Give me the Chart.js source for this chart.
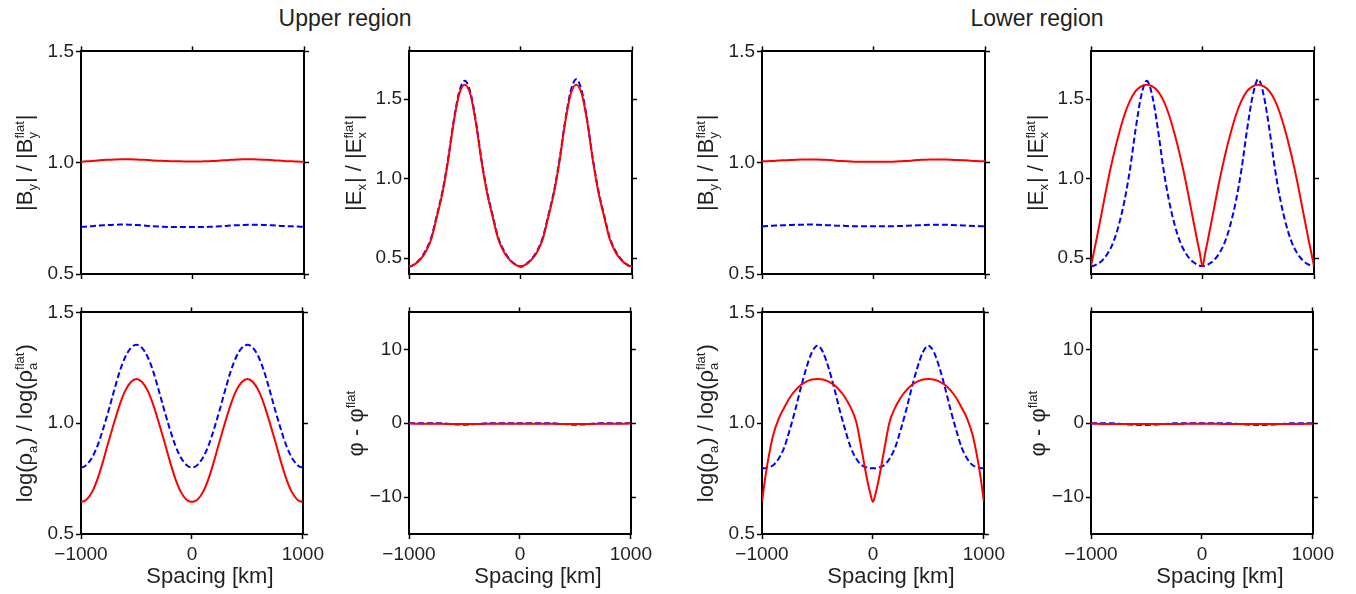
<!DOCTYPE html>
<html>
<head>
<meta charset="utf-8">
<script src="https://cdn.jsdelivr.net/npm/chart.js@4.4.1/dist/chart.umd.min.js"></script>
<style>
  html, body { margin: 0; padding: 0; background: #fff; }
  body { width: 1356px; height: 594px; position: relative; overflow: hidden;
         font-family: "Liberation Sans", Arial, Helvetica, sans-serif; color: #231f20; }
  canvas { position: absolute; }
  .group { position: absolute; top: 4px; font-size: 23px; line-height: 28px;
           transform: translateX(-50%); white-space: nowrap; }
</style>
</head>
<body>
<div class="group" style="left:345px">Upper region</div>
<div class="group" style="left:1037px">Lower region</div>
<script>
// Horizontal sample positions (km), shared by every profile
const spacingKm = [-1000,-975,-950,-900,-850,-800,-750,-700,-650,-600,-550,-500,-450,-400,-350,-300,-250,-200,-150,-100,-50,-25,0,
                   25,50,100,150,200,250,300,350,400,450,500,550,600,650,700,750,800,850,900,950,975,1000];
const xTickValues = [-1000, 0, 1000];
const ratioTicks = [0.5, 1.0, 1.5];
const phaseTicks = [-10, 0, 10];

// |By| / |By flat|
const byUpperRed  = [1.004,1.005,1.006,1.008,1.010,1.012,1.013,1.014,1.015,1.015,1.015,1.014,1.013,1.012,1.010,1.009,1.008,1.007,1.006,1.006,1.005,1.005,1.005,1.005,1.005,1.006,1.007,1.008,1.010,1.011,1.013,1.014,1.015,1.015,1.015,1.014,1.013,1.012,1.010,1.009,1.007,1.006,1.005,1.004,1.004];
const byUpperBlue = [0.712,0.712,0.713,0.715,0.717,0.719,0.720,0.721,0.722,0.722,0.721,0.720,0.718,0.716,0.714,0.713,0.712,0.711,0.711,0.711,0.711,0.711,0.711,0.711,0.711,0.711,0.712,0.713,0.714,0.716,0.718,0.719,0.720,0.721,0.721,0.721,0.720,0.719,0.718,0.716,0.715,0.714,0.713,0.712,0.712];
const byLowerRed  = [1.006,1.006,1.007,1.008,1.010,1.011,1.012,1.013,1.014,1.014,1.014,1.014,1.013,1.012,1.010,1.008,1.007,1.005,1.004,1.004,1.004,1.004,1.004,1.004,1.004,1.004,1.004,1.005,1.007,1.008,1.010,1.012,1.013,1.014,1.014,1.014,1.014,1.013,1.012,1.011,1.010,1.008,1.007,1.006,1.006];
const byLowerBlue = [0.715,0.715,0.716,0.717,0.718,0.719,0.720,0.721,0.721,0.722,0.722,0.721,0.720,0.719,0.718,0.717,0.716,0.715,0.715,0.714,0.714,0.714,0.714,0.714,0.714,0.714,0.715,0.715,0.716,0.717,0.718,0.719,0.720,0.721,0.721,0.721,0.721,0.720,0.719,0.718,0.717,0.716,0.715,0.715,0.715];

// |Ex| / |Ex flat|
const exUpperRed  = [0.45,0.452,0.46,0.49,0.54,0.62,0.76,0.91,1.11,1.35,1.53,1.59,1.53,1.35,1.11,0.91,0.76,0.62,0.54,0.49,0.46,0.452,0.45,0.452,0.46,0.49,0.54,0.62,0.76,0.91,1.11,1.35,1.53,1.59,1.53,1.35,1.11,0.91,0.76,0.62,0.54,0.49,0.46,0.452,0.45];
const exUpperBlue = [0.445,0.45,0.462,0.495,0.548,0.63,0.77,0.92,1.12,1.36,1.545,1.615,1.545,1.36,1.12,0.92,0.77,0.63,0.548,0.495,0.462,0.45,0.445,0.45,0.462,0.495,0.548,0.63,0.77,0.92,1.12,1.36,1.55,1.625,1.55,1.36,1.12,0.92,0.77,0.63,0.548,0.495,0.462,0.45,0.445];
const exLowerRed  = [0.45,0.535,0.62,0.80,0.98,1.14,1.28,1.40,1.49,1.55,1.58,1.59,1.58,1.55,1.49,1.40,1.28,1.14,0.98,0.80,0.62,0.535,0.45,0.535,0.62,0.80,0.98,1.14,1.28,1.40,1.49,1.55,1.58,1.59,1.58,1.55,1.49,1.40,1.28,1.14,0.98,0.80,0.62,0.535,0.45];
const exLowerBlue = [0.45,0.452,0.46,0.485,0.53,0.60,0.71,0.86,1.06,1.31,1.52,1.615,1.52,1.31,1.06,0.86,0.71,0.60,0.53,0.485,0.46,0.452,0.45,0.452,0.46,0.485,0.53,0.60,0.71,0.86,1.06,1.31,1.52,1.625,1.52,1.31,1.06,0.86,0.71,0.60,0.53,0.485,0.46,0.452,0.45];

// log(rho_a) / log(rho_a flat)
const rhoUpperRed  = [0.645,0.648,0.655,0.69,0.75,0.83,0.92,1.005,1.085,1.148,1.186,1.20,1.186,1.148,1.085,1.005,0.92,0.83,0.75,0.69,0.655,0.648,0.645,0.648,0.655,0.69,0.75,0.83,0.92,1.005,1.085,1.148,1.186,1.20,1.186,1.148,1.085,1.005,0.92,0.83,0.75,0.69,0.655,0.648,0.645];
const rhoUpperBlue = [0.80,0.803,0.812,0.845,0.90,0.975,1.06,1.15,1.235,1.30,1.34,1.354,1.34,1.30,1.235,1.15,1.06,0.975,0.90,0.845,0.812,0.803,0.80,0.803,0.812,0.845,0.90,0.975,1.06,1.15,1.235,1.30,1.34,1.354,1.34,1.30,1.235,1.15,1.06,0.975,0.90,0.845,0.812,0.803,0.80];
const rhoLowerRed  = [0.645,0.74,0.82,0.945,1.02,1.07,1.115,1.148,1.172,1.188,1.197,1.20,1.197,1.188,1.172,1.148,1.115,1.07,1.005,0.875,0.74,0.685,0.645,0.685,0.74,0.875,1.005,1.07,1.115,1.148,1.172,1.188,1.197,1.20,1.197,1.188,1.172,1.148,1.115,1.07,1.02,0.945,0.82,0.74,0.645];
const rhoLowerBlue = [0.797,0.797,0.80,0.81,0.84,0.89,0.97,1.06,1.16,1.25,1.32,1.35,1.32,1.25,1.16,1.06,0.97,0.89,0.84,0.81,0.80,0.797,0.797,0.797,0.80,0.81,0.84,0.89,0.97,1.06,1.16,1.25,1.32,1.35,1.32,1.25,1.16,1.06,0.97,0.89,0.84,0.81,0.80,0.797,0.797];

// phi - phi flat (degrees)
const phaseUpperRed  = [-0.05,-0.05,-0.06,-0.07,-0.08,-0.08,-0.09,-0.09,-0.1,-0.1,-0.1,-0.1,-0.1,-0.1,-0.1,-0.09,-0.09,-0.08,-0.08,-0.07,-0.07,-0.07,-0.07,-0.07,-0.07,-0.07,-0.08,-0.08,-0.09,-0.09,-0.1,-0.1,-0.1,-0.1,-0.1,-0.1,-0.1,-0.09,-0.09,-0.08,-0.08,-0.07,-0.06,-0.05,-0.05];
const phaseUpperBlue = [0,0,0,0,0,0,0,-0.02,-0.06,-0.12,-0.17,-0.2,-0.17,-0.12,-0.06,-0.02,0,0,0,0,0,0,0,0,0,0,0,0,0,-0.02,-0.06,-0.12,-0.17,-0.2,-0.17,-0.12,-0.06,-0.02,0,0,0,0,0,0,0];
const phaseLowerRed  = [-0.08,-0.08,-0.09,-0.1,-0.1,-0.11,-0.11,-0.12,-0.12,-0.12,-0.12,-0.12,-0.12,-0.12,-0.11,-0.11,-0.1,-0.1,-0.09,-0.09,-0.08,-0.08,-0.08,-0.08,-0.08,-0.09,-0.09,-0.1,-0.1,-0.11,-0.11,-0.12,-0.12,-0.12,-0.12,-0.12,-0.12,-0.12,-0.11,-0.11,-0.1,-0.1,-0.09,-0.08,-0.08];
const phaseLowerBlue = [0,0,0,0,0,-0.02,-0.06,-0.12,-0.18,-0.22,-0.24,-0.24,-0.22,-0.18,-0.12,-0.06,-0.02,0,0,0,0,0,0,0,0,0,0,0,-0.02,-0.06,-0.12,-0.18,-0.22,-0.24,-0.24,-0.22,-0.18,-0.12,-0.06,-0.02,0,0,0,0,0];

const FONT = '"Liberation Sans", Arial, Helvetica, sans-serif';
const INK = '#231f20';
const MINUS = '\u2212';
const X_TITLE = 'Spacing [km]';

// Axis titles with subscripts / superscripts
const byTitle    = [{t:'|B'}, {sub:'y'}, {t:'| / |B'}, {sub:'y', sup:'flat'}, {t:'|'}];
const exTitle    = [{t:'|E'}, {sub:'x'}, {t:'| / |E'}, {sub:'x', sup:'flat'}, {t:'|'}];
const rhoTitle   = [{t:'log(\u03c1'}, {sub:'a'}, {t:') / log(\u03c1'}, {sub:'a', sup:'flat'}, {t:')'}];
const phaseTitle = [{t:'\u03c6 - \u03c6'}, {sup:'flat'}];

// Axis titles: rotated y title with scripts, and the x title set slightly right of centre
const richTitle = {
  id: 'richTitle',
  afterDraw(chart, _args, o) {
    if (!o || !o.parts) return;
    const ctx = chart.ctx, a = chart.chartArea, S = o.size;
    const fMain = S + 'px ' + FONT;
    const fSmall = Math.round(S * 0.6) + 'px ' + FONT;
    const width = p => {
      if (p.t) { ctx.font = fMain; return ctx.measureText(p.t).width; }
      ctx.font = fSmall;
      return Math.max(p.sub ? ctx.measureText(p.sub).width : 0, p.sup ? ctx.measureText(p.sup).width : 0) + 1;
    };
    ctx.save();
    const total = o.parts.reduce((s, p) => s + width(p), 0);
    ctx.translate(a.left - o.gap, (a.top + a.bottom) / 2);
    ctx.rotate(-Math.PI / 2);
    ctx.fillStyle = INK;
    ctx.textAlign = 'left';
    ctx.textBaseline = 'alphabetic';
    const base = S * 0.36;
    let x = -total / 2;
    for (const p of o.parts) {
      const pw = width(p);
      if (p.t) { ctx.font = fMain; ctx.fillText(p.t, x, base); }
      else {
        ctx.font = fSmall;
        if (p.sub) ctx.fillText(p.sub, x, base + S * 0.22);
        if (p.sup) ctx.fillText(p.sup, x, base - S * 0.36);
      }
      x += pw;
    }
    ctx.restore();

    if (o.xTitle) {
      ctx.save();
      ctx.font = fMain;
      ctx.fillStyle = INK;
      ctx.textAlign = 'center';
      ctx.textBaseline = 'middle';
      ctx.fillText(o.xTitle, (a.left + a.right) / 2 + 18, a.bottom + 43);
      ctx.restore();
    }
  }
};

const W = 223, LEFT_W = 81, RIGHT_W = 24, TOP_H = 12;
const panels = [
  {L: 81,   T: 50,  H: 224, bottom: false, red: byUpperRed,    blue: byUpperBlue,    min: 0.5, max: 1.5, ticks: ratioTicks, fmt: 'ratio', title: byTitle,    gap: 57},
  {L: 409,  T: 50,  H: 224, bottom: false, red: exUpperRed,    blue: exUpperBlue,    min: 0.4, max: 1.8, ticks: ratioTicks, fmt: 'ratio', title: exTitle,    gap: 56},
  {L: 762,  T: 50,  H: 224, bottom: false, red: byLowerRed,    blue: byLowerBlue,    min: 0.5, max: 1.5, ticks: ratioTicks, fmt: 'ratio', title: byTitle,    gap: 57},
  {L: 1091, T: 50,  H: 224, bottom: false, red: exLowerRed,    blue: exLowerBlue,    min: 0.4, max: 1.8, ticks: ratioTicks, fmt: 'ratio', title: exTitle,    gap: 56},
  {L: 81,   T: 311, H: 223, bottom: true,  red: rhoUpperRed,   blue: rhoUpperBlue,   min: 0.5, max: 1.5, ticks: ratioTicks, fmt: 'ratio', title: rhoTitle,   gap: 57},
  {L: 409,  T: 311, H: 223, bottom: true,  red: phaseUpperRed, blue: phaseUpperBlue, min: -15, max: 15,  ticks: phaseTicks, fmt: 'int',   title: phaseTitle, gap: 54},
  {L: 762,  T: 311, H: 223, bottom: true,  red: rhoLowerRed,   blue: rhoLowerBlue,   min: 0.5, max: 1.5, ticks: ratioTicks, fmt: 'ratio', title: rhoTitle,   gap: 57},
  {L: 1091, T: 311, H: 223, bottom: true,  red: phaseLowerRed, blue: phaseLowerBlue, min: -15, max: 15,  ticks: phaseTicks, fmt: 'int',   title: phaseTitle, gap: 54}
];

const signed = v => v < 0 ? MINUS + Math.abs(v) : String(v);
const fixTicks = values => scale => { scale.ticks = values.map(v => ({value: v})); };
const frameGrid = {drawOnChartArea: false, drawTicks: true, tickLength: 5, tickWidth: 1.5, tickColor: '#000'};
const frameBorder = {display: true, width: 2, color: '#000'};

panels.forEach(p => {
  const bottomH = p.bottom ? 594 - (p.T + p.H) : 14;
  const canvas = document.createElement('canvas');
  canvas.width = LEFT_W + W + RIGHT_W;
  canvas.height = TOP_H + p.H + bottomH;
  canvas.style.left = (p.L - LEFT_W) + 'px';
  canvas.style.top = (p.T - TOP_H) + 'px';
  document.body.appendChild(canvas);

  const toPoints = arr => spacingKm.map((x, i) => ({x, y: arr[i]}));

  new Chart(canvas, {
    type: 'line',
    data: {
      datasets: [
        {data: toPoints(p.red),  borderColor: '#ff0000', borderWidth: 2, pointRadius: 0, cubicInterpolationMode: 'monotone', fill: false},
        {data: toPoints(p.blue), borderColor: '#0000ff', borderWidth: 2, borderDash: [6, 3], pointRadius: 0, cubicInterpolationMode: 'monotone', fill: false}
      ]
    },
    options: {
      responsive: false,
      devicePixelRatio: 1,
      animation: false,
      events: [],
      layout: {padding: 0},
      plugins: {
        legend: {display: false},
        tooltip: {enabled: false},
        richTitle: {parts: p.title, size: 22, gap: p.gap, xTitle: p.bottom ? X_TITLE : null}
      },
      scales: {
        x: {
          type: 'linear', position: 'bottom', min: -1000, max: 1000,
          afterBuildTicks: fixTicks(xTickValues),
          afterFit: s => { s.height = bottomH; },
          grid: frameGrid, border: frameBorder,
          ticks: {display: p.bottom, color: INK, padding: 4, maxRotation: 0, autoSkip: false,
                  font: {family: FONT, size: 19}, callback: v => signed(v)},
          title: {display: false}
        },
        xTop: {
          type: 'linear', position: 'top', min: -1000, max: 1000,
          afterBuildTicks: fixTicks(xTickValues),
          afterFit: s => { s.height = TOP_H; },
          grid: frameGrid, border: frameBorder, ticks: {display: false}
        },
        y: {
          type: 'linear', position: 'left', min: p.min, max: p.max,
          afterBuildTicks: fixTicks(p.ticks),
          afterFit: s => { s.width = LEFT_W; },
          grid: frameGrid, border: frameBorder,
          ticks: {color: INK, padding: 2, autoSkip: false, font: {family: FONT, size: 19},
                  callback: v => p.fmt === 'ratio' ? v.toFixed(1) : signed(v)}
        },
        yRight: {
          type: 'linear', position: 'right', min: p.min, max: p.max,
          afterBuildTicks: fixTicks(p.ticks),
          afterFit: s => { s.width = RIGHT_W; },
          grid: frameGrid, border: frameBorder, ticks: {display: false}
        }
      }
    },
    plugins: [richTitle]
  });
});
</script>
</body>
</html>
